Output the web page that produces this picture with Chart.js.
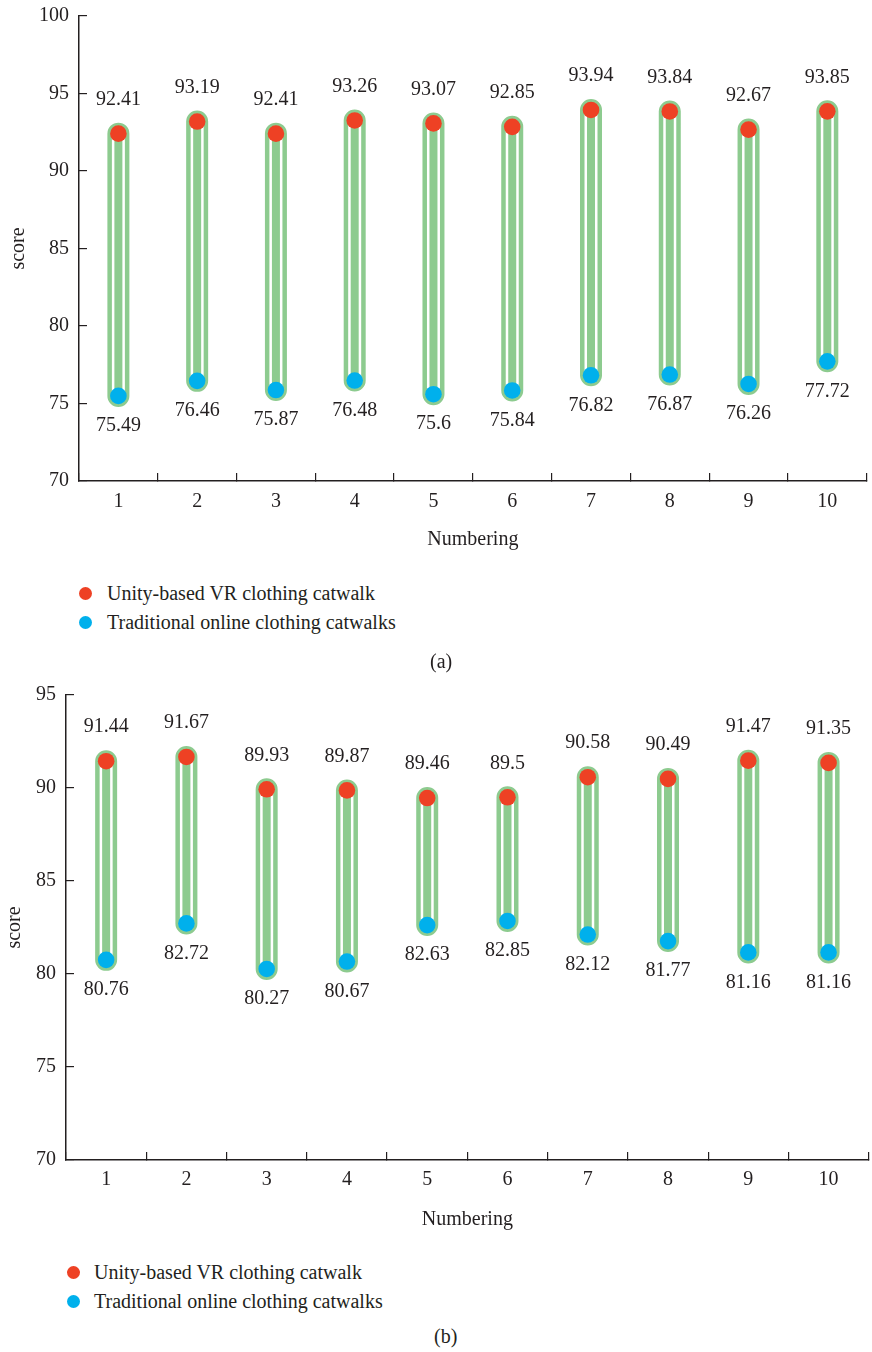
<!DOCTYPE html>
<html><head><meta charset="utf-8">
<script src="https://cdn.jsdelivr.net/npm/chart.js@4.4.0/dist/chart.umd.min.js"></script>
<style>
html,body{margin:0;padding:0;background:#fff;overflow:hidden;width:872px;height:1352px;position:relative;}
canvas{position:absolute;left:0;}
#chartA{top:0;}
#chartB{top:640px;}
.txt{position:absolute;font-family:"Liberation Serif",serif;font-size:20px;line-height:24px;color:#231f20;white-space:nowrap;}
.dot{position:absolute;width:13px;height:13px;border-radius:50%;}
</style></head><body>
<canvas id="chartA" width="875" height="560"></canvas>
<canvas id="chartB" width="877" height="600"></canvas>

<div class="dot" style="left:79px;top:587px;background:#ee4124"></div>
<div class="txt" style="left:107px;top:581px">Unity-based VR clothing catwalk</div>
<div class="dot" style="left:79px;top:616px;background:#00b0ec"></div>
<div class="txt" style="left:107px;top:610px">Traditional online clothing catwalks</div>
<div class="txt" style="left:430px;top:649px">(a)</div>

<div class="dot" style="left:67px;top:1266px;background:#ee4124"></div>
<div class="txt" style="left:94px;top:1260px">Unity-based VR clothing catwalk</div>
<div class="dot" style="left:67px;top:1295px;background:#00b0ec"></div>
<div class="txt" style="left:94px;top:1289px">Traditional online clothing catwalks</div>
<div class="txt" style="left:434px;top:1324px">(b)</div>

<script>
// ---- data ----
const categories = ['1','2','3','4','5','6','7','8','9','10'];
const vrScoresA   = [92.41, 93.19, 92.41, 93.26, 93.07, 92.85, 93.94, 93.84, 92.67, 93.85];
const tradScoresA = [75.49, 76.46, 75.87, 76.48, 75.6, 75.84, 76.82, 76.87, 76.26, 77.72];
const vrScoresB   = [91.44, 91.67, 89.93, 89.87, 89.46, 89.5, 90.58, 90.49, 91.47, 91.35];
const tradScoresB = [80.76, 82.72, 80.27, 80.67, 82.63, 82.85, 82.12, 81.77, 81.16, 81.16];
const yTicksA = [70, 75, 80, 85, 90, 95, 100];
const yTicksB = [70, 75, 80, 85, 90, 95];
const seriesNames = ['Unity-based VR clothing catwalk', 'Traditional online clothing catwalks'];

// ---- style ----
const FONT = '"Liberation Serif", serif';
const TEXT = '#231f20';
const AXIS = '#231f20';
const GREEN = '#8dcb8f';
const RED = '#ee4124';
const BLUE = '#00b0ec';

function capsuleData(hi, lo) {
  const out = [];
  categories.forEach((c, i) => {
    out.push({x: c, y: hi[i]}, {x: c, y: lo[i]}, {x: c, y: null});
  });
  return out;
}
function pointData(vals) { return vals.map((v, i) => ({x: categories[i], y: v})); }

const valueLabels = {
  id: 'valueLabels',
  afterDatasetsDraw(chart) {
    const ctx = chart.ctx;
    ctx.save();
    ctx.font = '20px ' + FONT;
    ctx.fillStyle = TEXT;
    ctx.textAlign = 'center';
    ctx.textBaseline = 'middle';
    chart.data.datasets.forEach((ds, di) => {
      if (ds.labelOffset === undefined) return;
      const meta = chart.getDatasetMeta(di);
      meta.data.forEach((el, i) => {
        ctx.fillText(String(ds.data[i].y), el.x, el.y + ds.labelOffset);
      });
    });
    ctx.restore();
  }
};

function makeChart(id, hi, lo, yTicks, cfg) {
  return new Chart(document.getElementById(id), {
    type: 'line',
    data: {
      labels: categories,
      datasets: [
        {label: seriesNames[0], data: pointData(hi), showLine: false, pointRadius: 8.3, pointBorderWidth: 0,
         pointBackgroundColor: RED, order: 0, labelOffset: -34},
        {label: seriesNames[1], data: pointData(lo), showLine: false, pointRadius: 8.3, pointBorderWidth: 0,
         pointBackgroundColor: BLUE, order: 0, labelOffset: 30},
        {label: 'inner', data: capsuleData(hi, lo), borderColor: GREEN, borderWidth: 8, borderCapStyle: 'butt',
         pointRadius: 0, spanGaps: false, fill: false, order: 1},
        {label: 'gap', data: capsuleData(hi, lo), borderColor: '#ffffff', borderWidth: 13, borderCapStyle: 'round',
         pointRadius: 0, spanGaps: false, fill: false, order: 2},
        {label: 'outer', data: capsuleData(hi, lo), borderColor: GREEN, borderWidth: 22, borderCapStyle: 'round',
         pointRadius: 0, spanGaps: false, fill: false, order: 3}
      ]
    },
    options: {
      responsive: false,
      animation: false,
      events: [],
      layout: {padding: {top: cfg.padTop, left: 0, right: 0, bottom: 0}},
      plugins: {legend: {display: false}, tooltip: {enabled: false}},
      scales: {
        x: {
          type: 'category', offset: true,
          grid: {offset: true, drawOnChartArea: false, tickLength: -8, color: AXIS, lineWidth: 1.2},
          border: {display: true, color: AXIS, width: 1.5},
          ticks: {padding: cfg.xPad, color: TEXT, font: {family: FONT, size: 20}, maxRotation: 0, autoSkip: false},
          title: {display: true, text: 'Numbering', color: TEXT, font: {family: FONT, size: 20}, padding: {top: 0, bottom: 8}},
          afterFit: s => { s.height = cfg.xHeight; }
        },
        y: {
          min: yTicks[0], max: yTicks[yTicks.length - 1],
          afterBuildTicks: s => { s.ticks = yTicks.map(v => ({value: v})); },
          grid: {drawOnChartArea: false, tickLength: -8, color: AXIS, lineWidth: 1.2},
          border: {display: true, color: AXIS, width: 1.5},
          ticks: {padding: 18, color: TEXT, font: {family: FONT, size: 20}},
          title: {display: true, text: 'score', color: TEXT, font: {family: FONT, size: 20}, padding: {top: cfg.yTitlePad, bottom: 0}},
          afterFit: s => { s.width = cfg.yWidth; s.paddingTop = 0; s.paddingBottom = 0; }
        }
      }
    },
    plugins: [valueLabels]
  });
}

makeChart('chartA', vrScoresA, tradScoresA, yTicksA, {padTop: 16, xPad: 17, xHeight: 79, yWidth: 79, yTitlePad: 7});
makeChart('chartB', vrScoresB, tradScoresB, yTicksB, {padTop: 55, xPad: 16, xHeight: 80, yWidth: 66, yTitlePad: 3});
</script>
</body></html>
